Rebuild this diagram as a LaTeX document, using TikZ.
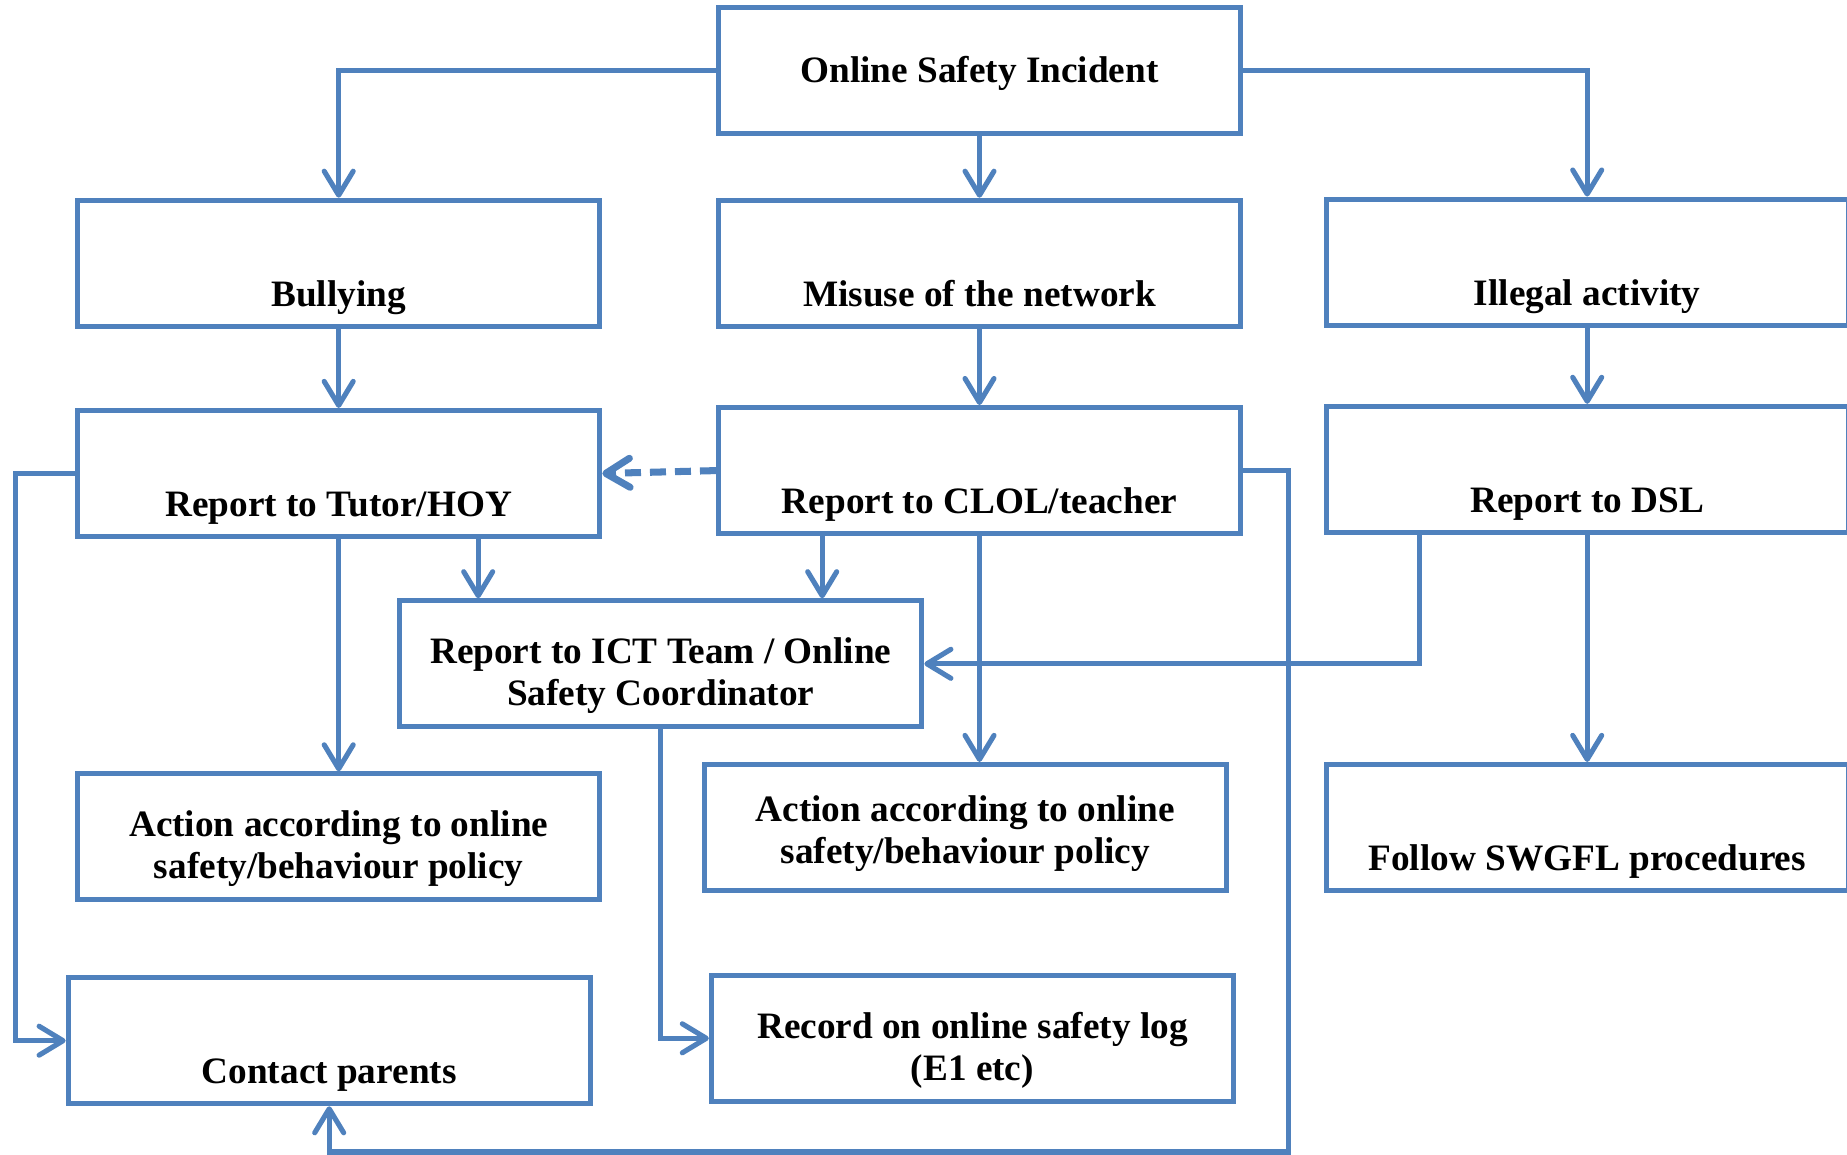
\documentclass[tikz,border=0pt]{standalone}
\usepackage{fontspec}
\setmainfont{Liberation Serif}
\usetikzlibrary{arrows.meta}
\definecolor{flowblue}{HTML}{4F81BD}

\begin{document}
\begin{tikzpicture}[
        box/.style={draw=flowblue, line width=1.45pt, minimum width=5.22cm, minimum height=1.26cm,
            inner ysep=0pt, align=center, font=\bfseries\fontsize{10.6}{12}\selectfont},
        lowbox/.style={box, text height=1cm, text depth=0.14cm},
        twobox/.style={box, text height=0.94cm, text depth=0.1cm},
        link/.style={draw=flowblue, line width=1.45pt,
            -{Straight Barb[length=2.4mm,width=2.9mm,line cap=round,line join=round]}}
    ]
        \useasboundingbox (0,0) rectangle (18.47,-11.55);

        \node[box, text height=0.33cm, text depth=0.075cm] (incident) at (9.795,-0.701) {Online Safety Incident};
        \node[lowbox] (bully) at (3.387,-2.633) {Bullying};
        \node[lowbox] (misuse) at (9.795,-2.633) {Misuse of the network};
        \node[lowbox] (illegal) at (15.872,-2.621) {Illegal activity};
        \node[lowbox] (tutor) at (3.387,-4.735) {Report to Tutor/HOY};
        \node[lowbox] (clol) at (9.795,-4.706) {Report to CLOL/teacher};
        \node[lowbox] (dsl) at (15.872,-4.694) {Report to DSL};
        \node[twobox] (ict) at (6.608,-6.638) {Report to ICT Team / Online\\Safety Coordinator};
        \node[twobox] (actleft) at (3.387,-8.369) {Action according to online\\safety/behaviour policy};
        \node[twobox, text height=0.82cm] (actmid) at (9.653,-8.275) {Action according to online\\safety/behaviour policy};
        \node[lowbox] (swgfl) at (15.872,-8.275) {Follow SWGFL procedures};
        \node[lowbox] (contact) at (3.292,-10.407) {Contact parents};
        \node[twobox] (record) at (9.724,-10.383) {Record on online safety log\\(E1 etc)};

        \coordinate (tutorout) at ([xshift=1.395cm]tutor.south);
        \coordinate (clolout) at ([xshift=-1.573cm]clol.south);
        \coordinate (dslout) at ([xshift=-1.678cm]dsl.south);
        \coordinate (loopcorner) at (12.887,-11.52);

        \draw[link] (incident.west) -| (bully.north);
        \draw[link] (incident.south) -- (misuse.north);
        \draw[link] (incident.east) -| (illegal.north);

        \draw[link] (bully.south) -- (tutor.north);
        \draw[link] (misuse.south) -- (clol.north);
        \draw[link] (illegal.south) -- (dsl.north);

        \draw[link, line width=2pt, dash pattern=on 1.6mm off 0.9mm] (clol.west) -- (tutor.east);

        \draw[link] (tutorout) -- (tutorout |- ict.north);
        \draw[link] (clolout) -- (clolout |- ict.north);
        \draw[link] (dslout) |- (ict.east);

        \draw[link] (tutor.south) -- (actleft.north);
        \draw[link] (clol.south) -- (clol.south |- actmid.north);
        \draw[link] (dsl.south) -- (swgfl.north);

        \draw[link] (ict.south) |- (record.west);
        \draw[link] (tutor.west) -- ++(-0.6,0) |- (contact.west);
        \draw[link] (clol.east) -| (loopcorner) -| (contact.south);
\end{tikzpicture}
\end{document}
